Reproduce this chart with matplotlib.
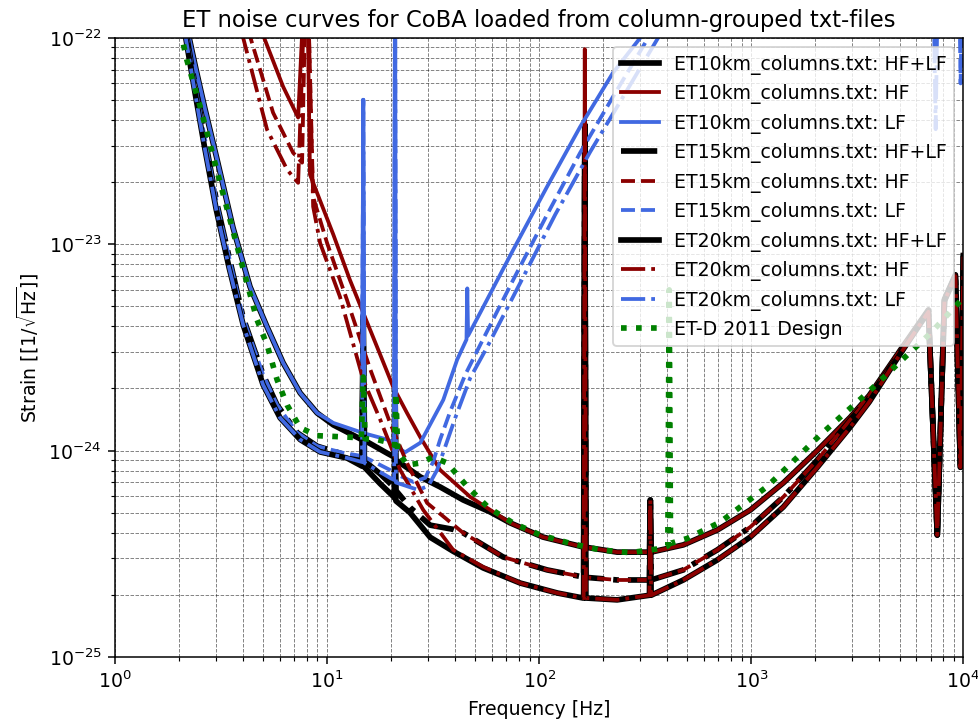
import matplotlib.pyplot as plt

# all strain values below are in units of 1e-24 / sqrt(Hz)
unit = 1e-24

# ET10km
f_et10_comb = [2.2, 2.41, 2.66, 3.03, 3.6, 4.33, 5.21, 6.2, 7.46, 8.97, 10.7, 14.3, 14.6, 14.8, 15.0,
               19.2, 20.7, 20.9, 21.1, 27.5, 34.1, 43.8, 58.7, 73.0, 104, 161, 162, 164, 166, 233,
               331, 334, 337, 478, 691, 989, 1416, 2048, 2930, 3600, 5050, 6840, 7530, 8140, 9170,
               9680, 10000]
h_et10_comb = [108, 70, 44.8, 25.6, 12.0, 6.21, 3.97, 2.66, 1.9, 1.52, 1.33, 1.14, 1.13, 4.5, 1.12,
               0.97, 0.93, 1.95, 0.90, 0.745, 0.666, 0.576, 0.504, 0.446, 0.381, 0.341, 0.34, 38, 0.34, 0.322,
               0.322, 0.576, 0.322, 0.349, 0.412, 0.515, 0.697, 1.0, 1.45, 1.85, 3.07, 4.8, 0.39, 5.4, 7.1,
               0.83, 8.8]

f_et10_hf = [4.88, 6.2, 7.3, 8.0, 8.3, 10.7, 12.8, 15.4, 17.8, 20.5, 23.8, 27.5, 34.1, 47.3, 73.0,
             104, 161, 162, 164, 166, 233, 331, 334, 337, 478, 691, 989, 1416, 2048, 2930, 3600,
             5050, 6840, 7530, 8140, 9170, 9680, 10000]
h_et10_hf = [109, 57.9, 41.0, 300, 21.7, 11.1, 6.71, 4.2, 2.91, 2.03, 1.52, 1.16, 0.805, 0.596, 0.446,
             0.381, 0.341, 0.34, 88, 0.34, 0.322, 0.322, 0.576, 0.322, 0.349, 0.412, 0.515, 0.697, 1.0, 1.45, 1.85,
             3.07, 4.8, 0.39, 5.4, 7.1, 0.83, 8.8]

f_et10_lf = [2.2, 2.41, 2.66, 3.03, 3.6, 4.33, 5.21, 6.2, 7.46, 8.97, 10.7, 14.3, 14.6, 14.8, 15.0,
             19.2, 20.7, 20.9, 21.1, 23.3, 27.5, 35.3, 41.0, 45.4, 45.8, 46.2, 52.7, 75.4, 109, 156,
             223, 300, 500, 7100, 7400, 7700, 10000]
h_et10_lf = [108, 70, 44.8, 25.6, 12.0, 6.21, 3.97, 2.66, 1.9, 1.52, 1.36, 1.23, 1.22, 50, 1.21,
             1.13, 1.09, 300, 1.05, 0.98, 1.09, 1.76, 2.75, 3.45, 6.1, 3.6, 4.65, 9.38, 19.0, 37.0,
             67.7, 100, 300, 600, 92, 600, 600]

# ET15km
f_et15_comb = [2.15, 2.38, 2.66, 3.03, 3.49, 4.02, 4.99, 5.81, 7.22, 8.97, 11.9, 14.6, 14.8, 15.0,
               17.8, 20.5, 20.7, 20.9, 21.1, 24.6, 30.6, 39.3, 43.8, 67.6, 109, 161, 162, 164, 166,
               233, 331, 334, 337, 478, 691, 989, 1416, 2048, 2930, 3600, 5050, 6840, 7530, 8140,
               9170, 9680, 10000]
h_et15_comb = [110, 59.2, 32.0, 15.5, 8.21, 4.39, 2.33, 1.66, 1.22, 1.05, 0.96, 0.9, 3.2, 0.89,
               0.77, 0.67, 0.66, 1.15, 0.64, 0.53, 0.435, 0.415, 0.399, 0.305, 0.264, 0.244, 0.244, 30, 0.243,
               0.236, 0.236, 0.576, 0.236, 0.264, 0.33, 0.426, 0.596, 0.9, 1.41, 1.8, 3.0, 4.75, 0.39, 5.35,
               7.05, 0.83, 8.75]

f_et15_hf = [4.24, 5.56, 6.91, 7.62, 8.0, 8.59, 10.0, 12.4, 16.0, 19.8, 23.8, 29.6, 43.8, 67.6, 109,
             161, 162, 164, 166, 233, 331, 334, 337, 478, 691, 989, 1416, 2048, 2930, 3600, 5050,
             6840, 7530, 8140, 9170, 9680, 10000]
h_et15_hf = [109, 43.3, 27.7, 24.8, 300, 16.9, 10.1, 5.37, 2.46, 1.36, 0.87, 0.557, 0.399, 0.305, 0.264,
             0.244, 0.244, 38.7, 0.243, 0.236, 0.236, 0.576, 0.236, 0.264, 0.33, 0.426, 0.596, 0.9, 1.41, 1.8, 3.0,
             4.75, 0.39, 5.35, 7.05, 0.83, 8.75]

f_et15_lf = [2.15, 2.38, 2.66, 3.03, 3.49, 4.02, 4.99, 5.81, 7.22, 8.97, 11.9, 14.6, 14.8, 15.0,
             19.8, 20.7, 20.9, 21.1, 25.5, 29.0, 31.6, 34.1, 38.0, 44.8, 52.7, 75.4, 109, 156, 223,
             327, 550, 9400, 9700, 10000]
h_et15_lf = [110, 59.2, 32.0, 15.5, 8.21, 4.39, 2.33, 1.66, 1.22, 1.05, 0.975, 0.94, 50, 0.93,
             0.805, 0.78, 300, 0.77, 0.704, 0.737, 0.88, 1.13, 1.54, 2.33, 3.25, 6.71, 13.9, 27.7, 51.8,
             100, 300, 600, 60, 600]

# ET20km
f_et20_comb = [2.12, 2.36, 2.63, 3.0, 3.45, 4.02, 4.99, 6.0, 7.46, 9.27, 12.4, 14.6, 14.8, 15.0,
               17.8, 20.5, 20.7, 20.9, 21.1, 24.6, 30.6, 39.3, 54.4, 81.4, 122, 161, 162, 164, 166,
               233, 331, 334, 337, 478, 691, 989, 1416, 2048, 2930, 3600, 5050, 6840, 7530, 8140,
               9170, 9680, 10000]
h_et20_comb = [110, 57.2, 30.3, 14.7, 7.68, 4.06, 2.08, 1.44, 1.13, 0.984, 0.92, 0.84, 2.2, 0.83,
               0.69, 0.6, 0.59, 0.95, 0.57, 0.5, 0.38, 0.325, 0.27, 0.228, 0.204, 0.193, 0.193, 24, 0.193,
               0.189, 0.199, 0.576, 0.199, 0.236, 0.295, 0.381, 0.533, 0.83, 1.30, 1.72, 2.95, 4.7, 0.39, 5.3,
               7.0, 0.83, 8.7]

f_et20_hf = [3.93, 5.21, 6.48, 7.30, 8.0, 8.59, 9.27, 11.5, 14.8, 17.8, 22.1, 28.4, 39.3, 54.4, 81.4,
             122, 161, 162, 164, 166, 233, 331, 334, 337, 478, 691, 989, 1416, 2048, 2930, 3600,
             5050, 6840, 7530, 8140, 9170, 9680, 10000]
h_et20_hf = [109, 35.8, 22.9, 19.8, 300, 15.2, 10.1, 5.55, 2.2, 1.41, 0.805, 0.515, 0.33, 0.273, 0.228,
             0.204, 0.193, 0.193, 38.7, 0.193, 0.189, 0.199, 0.576, 0.199, 0.236, 0.295, 0.381, 0.533, 0.83, 1.30, 1.72,
             2.95, 4.7, 0.39, 5.3, 7.0, 0.83, 8.7]

f_et20_lf = [2.12, 2.36, 2.63, 3.0, 3.45, 4.02, 4.99, 6.0, 7.46, 9.27, 12.4, 14.6, 14.8, 15.0,
             19.8, 20.7, 20.9, 21.1, 26.9, 30.0, 33.0, 36.0, 40.2, 47.3, 56.9, 81.4, 119, 174, 249,
             364, 600, 7100, 7400, 7700, 10000]
h_et20_lf = [110, 57.2, 30.3, 14.7, 7.68, 4.06, 2.08, 1.44, 1.13, 0.984, 0.921, 0.88, 50, 0.87,
             0.737, 0.72, 300, 0.70, 0.644, 0.674, 0.805, 1.04, 1.44, 2.25, 3.18, 6.49, 13.9, 28.0, 51.8,
             100, 300, 600, 36, 600, 600]

# ET-D 2011 design curve
f_etd = [2.03, 2.18, 2.52, 3.13, 3.89, 4.67, 5.21, 5.81, 6.48, 7.46, 8.97, 12.8, 14.5, 14.8, 15.1,
         17.2, 19.8, 20.8, 21.1, 21.5, 23.8, 27.5, 31.6, 36.8, 45.7, 57.5, 75.4, 101, 140, 194,
         269, 372, 404, 410, 416, 499, 714, 1189, 2115, 3524, 5047, 7000, 10000]
h_etd = [109, 78, 46.3, 19.8, 8.58, 4.3, 3.25, 2.2, 1.66, 1.29, 1.18, 1.16, 1.15, 2.27, 1.14,
         1.13, 1.09, 1.06, 1.9, 1.0, 0.85, 0.87, 0.93, 0.87, 0.67, 0.53, 0.445, 0.39, 0.355, 0.33,
         0.32, 0.335, 0.345, 6.0, 0.355, 0.375, 0.45, 0.67, 1.19, 1.9, 2.7, 3.7, 5.5]

curves = [
    ('ET10km_columns.txt: HF+LF', f_et10_comb, h_et10_comb, 'black', '-', 3),
    ('ET10km_columns.txt: HF', f_et10_hf, h_et10_hf, 'darkred', '-', 2),
    ('ET10km_columns.txt: LF', f_et10_lf, h_et10_lf, 'royalblue', '-', 2),
    ('ET15km_columns.txt: HF+LF', f_et15_comb, h_et15_comb, 'black', '-.', 3),
    ('ET15km_columns.txt: HF', f_et15_hf, h_et15_hf, 'darkred', '--', 2),
    ('ET15km_columns.txt: LF', f_et15_lf, h_et15_lf, 'royalblue', '--', 2),
    ('ET20km_columns.txt: HF+LF', f_et20_comb, h_et20_comb, 'black', '-', 3),
    ('ET20km_columns.txt: HF', f_et20_hf, h_et20_hf, 'darkred', '-.', 2),
    ('ET20km_columns.txt: LF', f_et20_lf, h_et20_lf, 'royalblue', '-.', 2),
]

dpi = 136
fig = plt.figure(figsize=(978.4 / dpi, 725.4 / dpi), dpi=dpi)
ax = fig.add_axes([115 / 978, 1 - 657 / 725, (963 - 115) / 978, (657 - 38) / 725])

for label, f, h, colour, ls, lw in curves:
    ax.plot(f, [v * unit for v in h], color=colour, linestyle=ls, linewidth=lw, label=label)

ax.plot(f_etd, [v * unit for v in h_etd], color='green', linestyle=':', linewidth=3,
        label='ET-D 2011 Design')

ax.set_xscale('log')
ax.set_yscale('log')
ax.set_xlim(1, 1e4)
ax.set_ylim(1e-25, 1e-22)
ax.grid(True, which='both', color='k', linestyle='--', linewidth=0.5, alpha=0.5)

ax.set_title('ET noise curves for CoBA loaded from column-grouped txt-files')
ax.set_xlabel('Frequency [Hz]')
ax.set_ylabel(r'Strain [[1/$\sqrt{\mathrm{Hz}}$]]')
ax.legend(loc='upper right')

fig.savefig('out.png', dpi=dpi)
